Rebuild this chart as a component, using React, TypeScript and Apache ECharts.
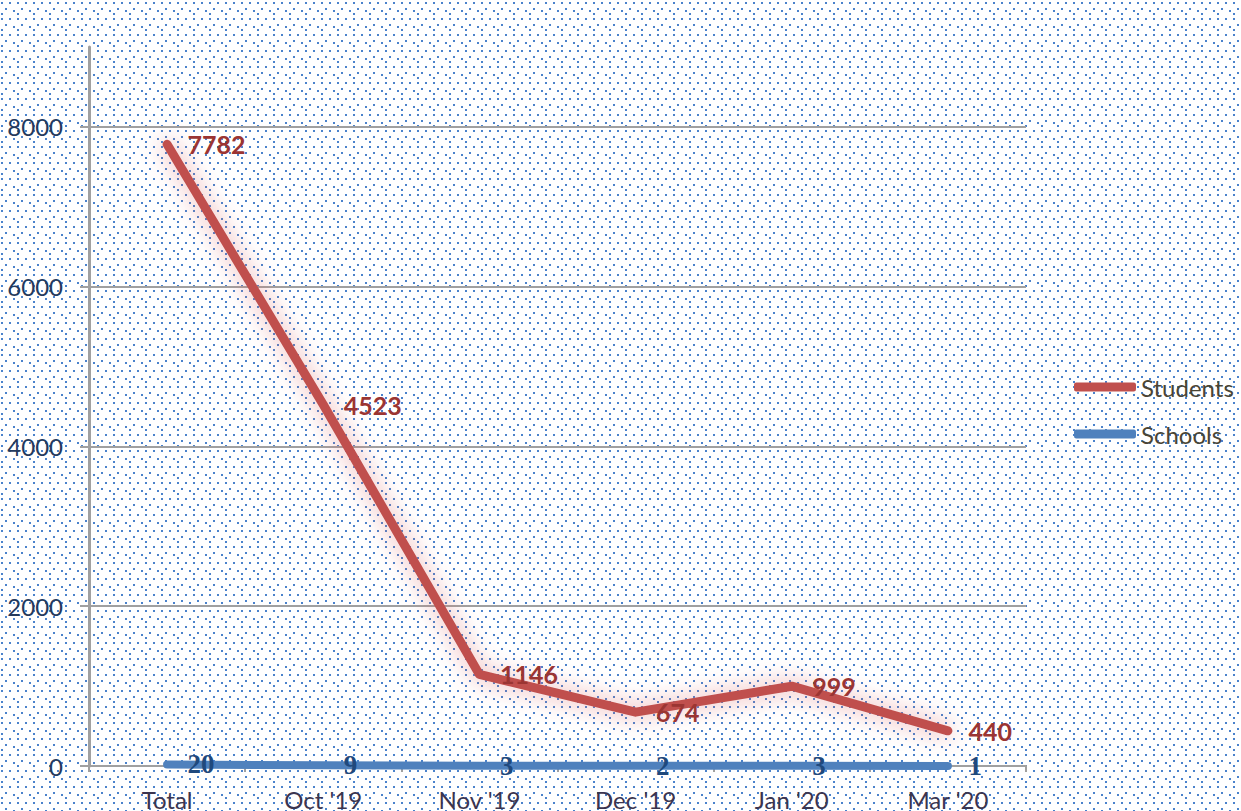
import React, { useEffect, useRef } from "react";
import * as echarts from "echarts";

const categories = ["Total", "Oct '19", "Nov '19", "Dec '19", "Jan '20", "Mar '20"];
const students = [7782, 4523, 1146, 674, 999, 440];
const schools = [20, 9, 3, 2, 3, 1];
const yTicks = [0, 2000, 4000, 6000, 8000];
const yMax = 9000;
const yInterval = 2000;

const tile =
  "data:image/svg+xml," +
  encodeURIComponent(
    '<svg xmlns="http://www.w3.org/2000/svg" width="16" height="16">' +
      '<g fill="#4a82cc">' +
      '<rect x="1" y="2" width="2" height="2"/>' +
      '<rect x="9" y="2" width="2" height="2"/>' +
      '<rect x="5" y="8" width="2" height="2"/>' +
      '<rect x="13" y="10" width="2" height="2"/>' +
      '<rect x="1" y="13" width="2" height="2"/>' +
      "</g></svg>"
  );

const grey = "#a0a0a0";

export default function App() {
  const ref = useRef<HTMLDivElement>(null);
  useEffect(() => {
    if (!ref.current) return;
    const chart = echarts.init(ref.current, undefined, { renderer: "svg" });
    chart.setOption({
      animation: false,
      backgroundColor: "transparent",
      grid: { left: 89, right: 215, top: 47, bottom: 44, containLabel: false },
      legend: {
        orient: "vertical",
        left: 1069,
        top: 370,
        itemWidth: 62,
        itemHeight: 9,
        itemGap: 23,
        textStyle: { fontFamily: "Lato", fontSize: 24, color: "#4a4535" },
        data: [
          { name: "Students", icon: "roundRect", itemStyle: { color: "#c0504d" } },
          { name: "Schools", icon: "roundRect", itemStyle: { color: "#4f81bd" } },
        ],
      },
      xAxis: {
        type: "category",
        data: categories,
        boundaryGap: true,
        axisLine: { lineStyle: { color: grey, width: 2 } },
        axisTick: { show: true, length: 6, lineStyle: { color: grey, width: 2 } },
        axisLabel: { fontFamily: "Lato", fontSize: 24, color: "#3b3550", margin: 21 },
      },
      yAxis: {
        type: "value",
        min: 0,
        max: yMax,
        interval: yInterval,
        axisLine: { show: true, lineStyle: { color: grey, width: 3 } },
        axisTick: { show: true, length: 9, customValues: yTicks, lineStyle: { color: grey, width: 2 } },
        splitLine: {
          lineStyle: {
            color: [grey, grey, grey, grey, grey, "rgba(0,0,0,0)"],
            width: 2,
          },
        },
        axisLabel: {
          fontFamily: "Lato",
          fontSize: 24,
          color: "#233a5e",
          margin: 26,
          customValues: yTicks,
          formatter: (v: number) => String(v),
        },
      },
      series: [
        {
          name: "Students",
          type: "line",
          data: students,
          symbol: "circle",
          symbolSize: 1,
          itemStyle: { color: "rgba(0,0,0,0)" },
          color: "#c0504d",
          lineStyle: {
            color: "#c0504d",
            width: 9,
            cap: "round",
            join: "round",
            shadowColor: "rgba(220,100,100,0.6)",
            shadowBlur: 22,
          },
          label: {
            show: true,
            position: "right",
            distance: 20,
            fontFamily: "Lato",
            fontWeight: "bold",
            fontSize: 25,
            color: "#9b3533",
          },
          z: 3,
        },
        {
          name: "Schools",
          type: "line",
          data: schools,
          symbol: "circle",
          symbolSize: 1,
          itemStyle: { color: "rgba(0,0,0,0)" },
          color: "#4f81bd",
          lineStyle: { color: "#4f81bd", width: 8, cap: "round", join: "round" },
          label: {
            show: true,
            position: "right",
            distance: 20,
            fontFamily: "Liberation Serif",
            fontWeight: "bold",
            fontSize: 27,
            color: "#1f497d",
          },
          z: 4,
        },
      ],
    });
    return () => chart.dispose();
  }, []);
  return (
    <div
      style={{
        position: "fixed",
        left: 0,
        top: 0,
        width: 1241,
        height: 811,
        backgroundColor: "#ffffff",
        backgroundImage: `url("${tile}")`,
        backgroundRepeat: "repeat",
      }}
    >
      <div ref={ref} style={{ width: 1241, height: 811 }} />
    </div>
  );
}
